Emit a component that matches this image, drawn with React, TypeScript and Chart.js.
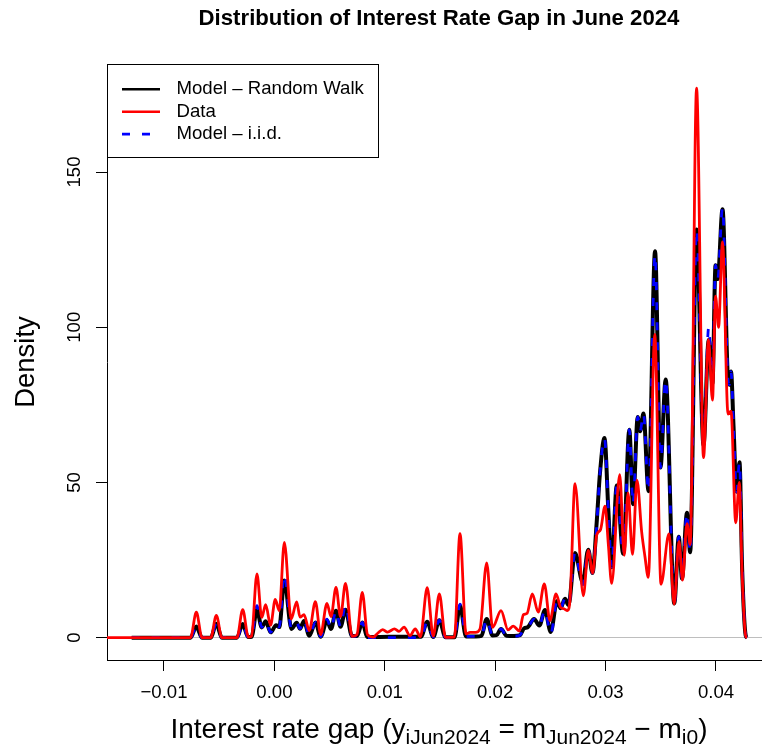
import React, { useEffect, useRef } from "react";
import { Chart, registerables } from "chart.js";

Chart.register(...registerables);

const FONT = "'Liberation Sans', Arial, Helvetica, sans-serif";

// Axis extents and tick values
const X_MIN = -0.015163;
const X_MAX = 0.044167;
const Y_MIN = -7.2;
const Y_MAX = 184.8;
const X_TICKS = [-0.01, 0, 0.01, 0.02, 0.03, 0.04];
const Y_TICKS = [0, 50, 100, 150];

const SERIES_LABELS = ["Model \u2013 Random Walk", "Data", "Model \u2013 i.i.d."];

// Model – Random Walk density (x: interest rate gap, y: density)
const rwX = [
  -0.01293, -0.0076, -0.00707, -0.00656, -0.00576, -0.00526, -0.00476, -0.00339, -0.00287, -0.00239,
  -0.00207, -0.00158, -0.00115, -0.00079, -0.00034, 0.00015, 0.00044, 0.0009, 0.00155, 0.00202,
  0.00232, 0.00268, 0.00316, 0.00372, 0.00419, 0.00476, 0.00513, 0.00558, 0.00599, 0.00644,
  0.00703, 0.00748, 0.00796, 0.00843, 0.00957, 0.01138, 0.01328, 0.01384, 0.01439, 0.01494,
  0.0155, 0.01631, 0.01681, 0.01736, 0.01826, 0.01876, 0.01923, 0.01976, 0.02012, 0.02053,
  0.02102, 0.0217, 0.02225, 0.02261, 0.02293, 0.02352, 0.024, 0.02451, 0.02503, 0.0256,
  0.02592, 0.02632, 0.02664, 0.02723, 0.02793, 0.02843, 0.02881, 0.02919, 0.02949, 0.0299,
  0.03025, 0.03055, 0.03101, 0.0316, 0.03215, 0.03248, 0.03291, 0.03313, 0.03343, 0.03389,
  0.03448, 0.03497, 0.03544, 0.03622, 0.03663, 0.03692, 0.03737, 0.03766, 0.03824, 0.03887,
  0.03934, 0.03968, 0.03996, 0.04016, 0.04059, 0.04109, 0.04122, 0.04136, 0.04159, 0.04186,
  0.04213, 0.04237, 0.04269, 0.04281,
];
const rwY = [
  0, 0, 3.6, 0, 0, 4.5, 0, 0, 4.4, 0.2,
  0.3, 9.0, 3.3, 5.3, 1.7, 4.0, 3.4, 18.4, 2.8, 4.8,
  2.9, 5.4, 0.6, 4.9, 0.3, 5.5, 2.8, 8.7, 3.5, 9.0,
  0.5, 0.5, 4.9, 0.2, 0.2, 0.3, 0.3, 5.1, 0.2, 5.6,
  0.1, 0.1, 10.3, 0.4, 0.4, 0.6, 6.0, 0.7, 0.8, 2.8,
  0.6, 0.5, 0.8, 3.0, 3.3, 6.0, 3.9, 8.9, 1.8, 11.8,
  9.5, 12.5, 10.5, 27.3, 17.9, 28.3, 20.8, 37.0, 53.0, 64.3,
  41.0, 22.7, 49.0, 27.0, 67.0, 43.0, 71.1, 66.5, 72.2, 47.2,
  124.5, 54.8, 83.2, 11.0, 32.5, 19.0, 40.2, 27.5, 131.5, 62.0,
  96.0, 82.0, 120.0, 115.5, 138.0, 83.0, 81.5, 85.7, 68.0, 47.0,
  56.5, 22.0, 0.7, 0,
];

// Model – i.i.d. density, evaluated on the same grid
const iidX = rwX;
const iidY = [
  0, 0, 3.6, 0, 0, 4.5, 0, 0, 4.4, 0.2,
  0.3, 10.3, 3.3, 5.3, 1.7, 4.5, 3.4, 20.5, 2.8, 4.8,
  2.9, 5.8, 0.6, 4.9, 0.3, 6.0, 2.8, 8.7, 3.5, 10.5,
  0.5, 0.5, 4.9, 0.0, 0.0, 0.0, 0.0, 5.1, 0.2, 5.6,
  0.1, 0.1, 10.8, 0.4, 0.4, 0.6, 6.0, 0.7, 0.8, 2.8,
  0.6, 0.5, 0.8, 3.0, 3.3, 6.0, 3.9, 8.9, 1.2, 11.8,
  9.5, 12.5, 10.5, 27.3, 17.0, 28.3, 20.8, 36.0, 53.0, 64.3,
  41.0, 22.7, 49.0, 27.0, 67.0, 43.0, 71.1, 66.5, 72.2, 47.2,
  123.5, 54.8, 83.2, 11.0, 32.5, 19.0, 40.2, 27.5, 131.5, 62.0,
  100.0, 82.0, 120.0, 115.5, 138.5, 83.0, 81.5, 85.7, 68.0, 47.0,
  56.5, 22.0, 0.7, 0,
];

// Observed data density
const dataX = [
  -0.016, -0.0076, -0.00707, -0.00656, -0.00576, -0.00526, -0.00476, -0.00339, -0.00287, -0.00236,
  -0.00207, -0.00158, -0.00115, -0.00079, -0.00035, 0.00008, 0.00044, 0.0009, 0.00152, 0.00202,
  0.00232, 0.00268, 0.00316, 0.00371, 0.00419, 0.00476, 0.00513, 0.00558, 0.00599, 0.00644,
  0.00703, 0.00748, 0.00796, 0.00843, 0.00896, 0.00938, 0.00981, 0.01025, 0.01088, 0.01129,
  0.01174, 0.01228, 0.01276, 0.01323, 0.01384, 0.01439, 0.01494, 0.0155, 0.01631, 0.01681,
  0.01736, 0.01772, 0.01822, 0.01862, 0.01923, 0.01976, 0.02053, 0.02116, 0.02164, 0.02218,
  0.02256, 0.02288, 0.02336, 0.0239, 0.02445, 0.02496, 0.02551, 0.02592, 0.02623, 0.02655,
  0.02679, 0.02723, 0.02798, 0.02843, 0.02883, 0.02919, 0.02954, 0.02995, 0.03025, 0.03055,
  0.03128, 0.03169, 0.03203, 0.03244, 0.03284, 0.03327, 0.03357, 0.03387, 0.03445, 0.03502,
  0.03574, 0.03621, 0.03665, 0.03697, 0.03737, 0.03766, 0.03824, 0.03887, 0.03932, 0.03968,
  0.03996, 0.04023, 0.04059, 0.04109, 0.04136, 0.04179, 0.04211, 0.04237, 0.04269, 0.04281,
];
const dataY = [
  0, 0, 8.2, 0, 0, 7.2, 0, 0, 9.0, 0.2,
  0.5, 20.5, 6.5, 10.6, 4.0, 12.3, 8.7, 30.7, 6.0, 11.5,
  6.6, 7.4, 2.3, 11.6, 1.0, 11.0, 6.8, 16.2, 6.8, 17.5,
  0.4, 1.0, 14.6, 1.0, 0.2, 1.5, 2.6, 1.8, 2.8, 2.0,
  3.4, 0.7, 2.8, 0.3, 16.1, 0.5, 14.1, 0.1, 0.2, 33.5,
  1.2, 1.7, 1.7, 2.8, 24.1, 3.3, 8.7, 2.5, 3.7, 2.2,
  7.4, 7.8, 14.1, 8.2, 17.3, 5.5, 14.1, 9.8, 9.3, 8.7,
  13.0, 49.6, 13.5, 28.1, 20.8, 33.0, 34.8, 42.4, 30.0, 17.5,
  52.5, 26.5, 46.6, 26.8, 50.7, 34.0, 26.0, 19.4, 97.7, 17.2,
  33.4, 10.8, 31.0, 18.5, 36.7, 30.0, 177.0, 58.0, 96.0, 76.5,
  110.0, 100.0, 127.5, 72.0, 73.0, 37.0, 50.0, 20.0, 0.5, 0,
];

const toPoints = (xs: number[], ys: number[]) => xs.map((x, i) => ({ x, y: ys[i] }));

const formatGap = (v: number) => {
  const s = Math.abs(v).toFixed(2);
  return v < -1e-9 ? "\u2212" + s : s;
};

// Y tick labels drawn parallel to the axis
const rotatedYLabels = {
  id: "rotatedYLabels",
  afterDraw(chart: any) {
    const s = chart.scales.y;
    const ctx = chart.ctx;
    ctx.save();
    ctx.fillStyle = "#000";
    ctx.font = `18.6px ${FONT}`;
    ctx.textAlign = "center";
    ctx.textBaseline = "alphabetic";
    for (const t of s.ticks) {
      const y = s.getPixelForValue(t.value);
      ctx.save();
      ctx.translate(79.5, y);
      ctx.rotate(-Math.PI / 2);
      ctx.fillText(String(t.value), 0, 0);
      ctx.restore();
    }
    ctx.restore();
  },
};

// Boxed legend in the top-left corner of the plot region
const boxLegend = {
  id: "boxLegend",
  afterDatasetsDraw(chart: any) {
    const { ctx, chartArea } = chart;
    const left = Math.round(chartArea.left);
    const top = Math.round(chartArea.top);
    const w = 271;
    const h = 93;
    ctx.save();
    ctx.fillStyle = "#fff";
    ctx.fillRect(left, top, w, h);
    ctx.strokeStyle = "#000";
    ctx.lineWidth = 1;
    ctx.setLineDash([]);
    ctx.strokeRect(left + 0.5, top + 0.5, w, h);
    chart.data.datasets.forEach((ds: any, i: number) => {
      const y = top + 25.3 + i * 22.4;
      ctx.beginPath();
      ctx.setLineDash(ds.borderDash || []);
      ctx.strokeStyle = ds.borderColor;
      ctx.lineWidth = 2.6;
      ctx.moveTo(left + 15, y);
      ctx.lineTo(left + 53, y);
      ctx.stroke();
      ctx.setLineDash([]);
      ctx.fillStyle = "#000";
      ctx.font = `18.6px ${FONT}`;
      ctx.textAlign = "left";
      ctx.textBaseline = "middle";
      ctx.fillText(ds.label, left + 69.5, y);
    });
    ctx.restore();
  },
};

const SUB: React.CSSProperties = { fontSize: "0.75em", verticalAlign: "-0.3em", lineHeight: 0 };

export default function App() {
  const canvasRef = useRef<HTMLCanvasElement | null>(null);

  useEffect(() => {
    const canvas = canvasRef.current;
    if (!canvas) return;
    Chart.defaults.font.family = FONT;
    const chart = new Chart(canvas, {
      type: "line",
      data: {
        datasets: [
          {
            label: SERIES_LABELS[0],
            data: toPoints(rwX, rwY),
            borderColor: "#000000",
            borderWidth: 4,
            order: 3,
            clip: 0,
          },
          {
            label: SERIES_LABELS[1],
            data: toPoints(dataX, dataY),
            borderColor: "#ff0000",
            borderWidth: 2.8,
            order: 1,
            clip: 0,
          },
          {
            label: SERIES_LABELS[2],
            data: toPoints(iidX, iidY),
            borderColor: "#0000ff",
            borderWidth: 2.8,
            borderDash: [8, 12],
            order: 2,
            clip: 0,
          },
        ],
      } as any,
      options: {
        responsive: false,
        animation: false,
        devicePixelRatio: 1,
        events: [],
        elements: {
          point: { radius: 0 },
          line: { cubicInterpolationMode: "monotone", borderJoinStyle: "round", fill: false },
        },
        layout: { padding: { top: 64, left: 0, right: 0, bottom: 0 } },
        plugins: {
          legend: { display: false },
          tooltip: { enabled: false },
          title: { display: false },
        },
        scales: {
          x: {
            type: "linear",
            min: X_MIN,
            max: X_MAX,
            afterBuildTicks: (s: any) => {
              s.ticks = X_TICKS.map((value) => ({ value }));
            },
            afterFit: (s: any) => {
              s.height = 86;
            },
            grid: { drawOnChartArea: false, drawTicks: true, tickLength: 11, tickColor: "#000", tickWidth: 1 },
            border: { display: true, color: "#000", width: 1 },
            ticks: {
              color: "#000",
              font: { family: FONT, size: 18.6 },
              padding: 10.5,
              maxRotation: 0,
              minRotation: 0,
              autoSkip: false,
              callback: (v: any) => formatGap(Number(v)),
            },
          },
          y: {
            type: "linear",
            min: Y_MIN,
            max: Y_MAX,
            afterBuildTicks: (s: any) => {
              s.ticks = Y_TICKS.map((value) => ({ value }));
            },
            afterFit: (s: any) => {
              s.width = 107;
            },
            grid: {
              drawOnChartArea: true,
              drawTicks: true,
              tickLength: 11,
              tickColor: "#000",
              lineWidth: 1,
              color: (c: any) => (c.tick && c.tick.value === 0 ? "#bebebe" : "rgba(0,0,0,0)"),
            },
            border: { display: true, color: "#000", width: 1 },
            ticks: { display: false },
            title: {
              display: true,
              text: "Density",
              color: "#000",
              font: { family: FONT, size: 27.5 },
              padding: { top: 9.5, bottom: 0 },
            },
          },
        },
      } as any,
      plugins: [rotatedYLabels, boxLegend],
    });
    return () => chart.destroy();
  }, []);

  return (
    <div
      style={{
        position: "absolute",
        left: 0,
        top: 0,
        width: 762,
        height: 746,
        background: "#fff",
        overflow: "hidden",
      }}
    >
      <canvas ref={canvasRef} width={762} height={746} style={{ position: "absolute", left: 0, top: 0 }} />
      <div
        style={{
          position: "absolute",
          left: 0,
          width: 878,
          top: 7,
          textAlign: "center",
          whiteSpace: "nowrap",
          fontFamily: FONT,
          fontWeight: "bold",
          fontSize: 22.2,
          lineHeight: "22px",
          color: "#000",
        }}
      >
        Distribution of Interest Rate Gap in June 2024
      </div>
      <div
        style={{
          position: "absolute",
          left: 0,
          width: 878,
          top: 715,
          textAlign: "center",
          whiteSpace: "nowrap",
          fontFamily: FONT,
          fontSize: 28,
          lineHeight: "28px",
          color: "#000",
        }}
      >
        Interest rate gap (y<sub style={SUB}>iJun2024</sub> = m<sub style={SUB}>Jun2024</sub> {"\u2212"} m
        <sub style={SUB}>i0</sub>)
      </div>
    </div>
  );
}
